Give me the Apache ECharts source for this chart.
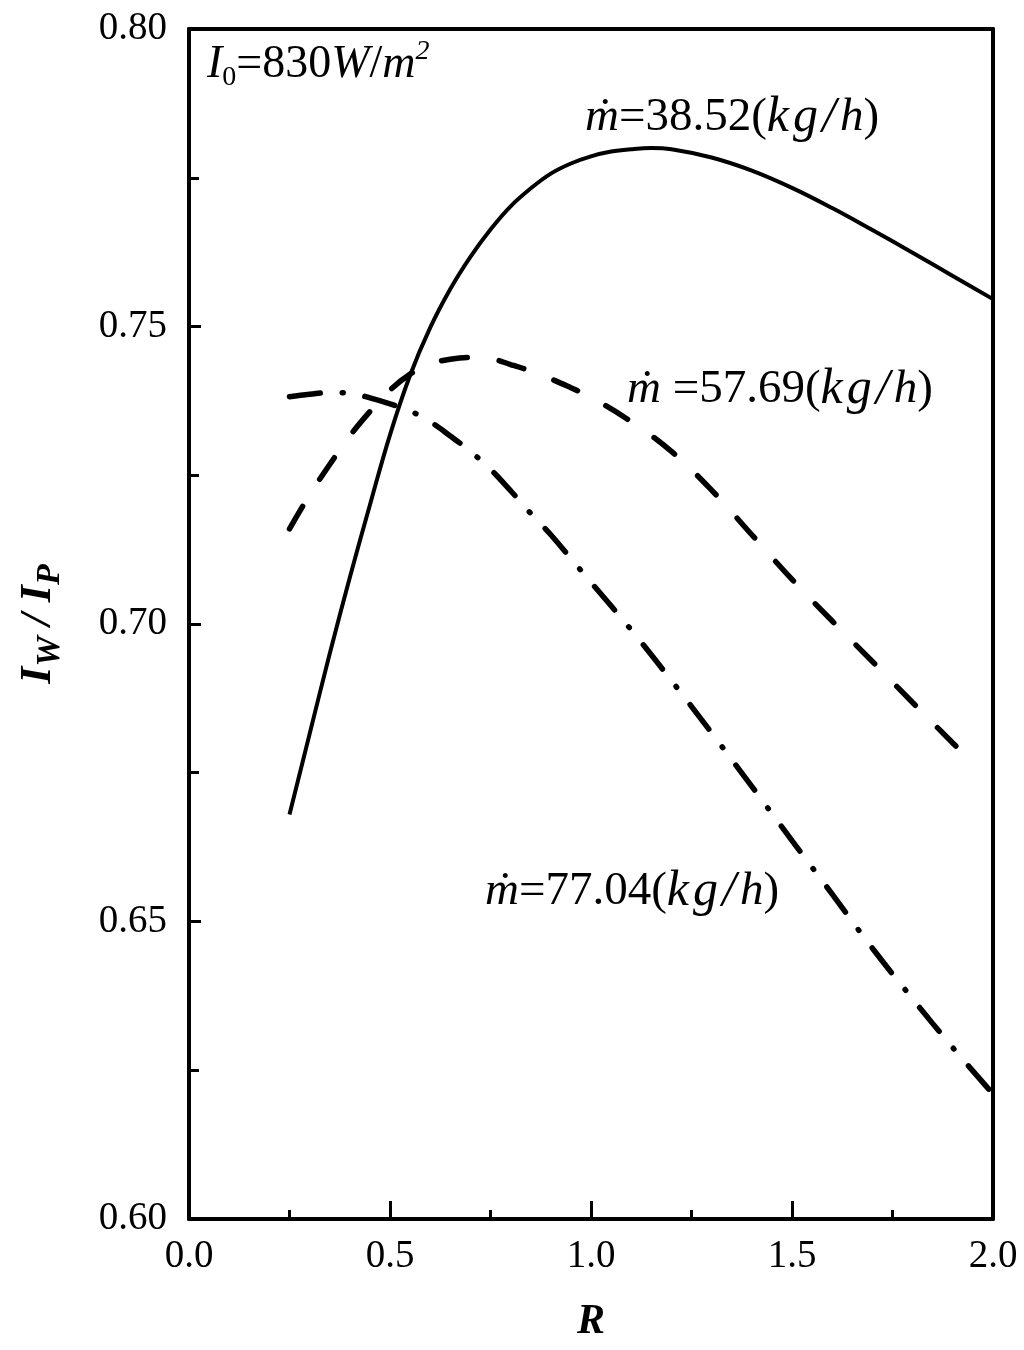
<!DOCTYPE html>
<html style="height: 100%">
<head>
<meta charset="utf-8">
</head>
<body style="width: 100%; height: 100%; margin: 0; background: #fff;">
<div id="container" style="width: 1024px; height: 1350px"></div>
<script type="text/javascript" src="https://cdn.jsdelivr.net/npm/echarts@6/dist/echarts.min.js"></script>
<script type="text/javascript">
	// m = 38.52 kg/h (solid)
	var r1 = [0.25, 0.30, 0.35, 0.40, 0.45, 0.50, 0.55, 0.60, 0.65, 0.70, 0.75, 0.80, 0.85, 0.90, 0.95, 1.00, 1.05, 1.10, 1.15, 1.20, 1.30, 1.40, 1.50, 1.60, 1.70, 1.80, 1.90, 2.00];
	var v1 = [0.6680, 0.6815, 0.6950, 0.7078, 0.7200, 0.7318, 0.7418, 0.7498, 0.7563, 0.7617, 0.7663, 0.7702, 0.7732, 0.7757, 0.7774, 0.7786, 0.7794, 0.7798, 0.7800, 0.7798, 0.7784, 0.7762, 0.7733, 0.7699, 0.7662, 0.7624, 0.7585, 0.7546];
	// m = 57.69 kg/h (dashed)
	var r2 = [0.25, 0.30, 0.35, 0.40, 0.45, 0.50, 0.55, 0.60, 0.65, 0.70, 0.75, 0.80, 0.85, 0.90, 0.95, 1.00, 1.10, 1.20, 1.30, 1.40, 1.50, 1.60, 1.70, 1.80, 1.90, 1.96];
	var v2 = [0.7160, 0.7217, 0.7268, 0.7316, 0.7357, 0.7393, 0.7420, 0.7437, 0.7445, 0.7448, 0.7446, 0.7436, 0.7425, 0.7412, 0.7397, 0.7381, 0.7340, 0.7290, 0.7225, 0.7150, 0.7075, 0.7005, 0.6937, 0.6868, 0.6800, 0.6760];
	// m = 77.04 kg/h (dash-dot)
	var r3 = [0.25, 0.30, 0.35, 0.40, 0.45, 0.50, 0.55, 0.60, 0.65, 0.70, 0.75, 0.80, 0.85, 0.90, 0.95, 1.00, 1.10, 1.20, 1.30, 1.40, 1.50, 1.60, 1.70, 1.80, 1.90, 2.00];
	var v3 = [0.7382, 0.7386, 0.7389, 0.7388, 0.7380, 0.7370, 0.7358, 0.7340, 0.7316, 0.7290, 0.7260, 0.7224, 0.7186, 0.7150, 0.7110, 0.7070, 0.6990, 0.6905, 0.6817, 0.6727, 0.6636, 0.6546, 0.6455, 0.6370, 0.6288, 0.6210];

	var xTicks = [0, 0.5, 1.0, 1.5, 2.0];
	var yTicks = [0.60, 0.65, 0.70, 0.75, 0.80];

	function pairs(xs, ys) {
		var out = [];
		for (var i = 0; i < xs.length; i++) {
			out.push([xs[i], ys[i]]);
		}
		return out;
	}

	var serif = '"Liberation Serif", "Times New Roman", "DejaVu Serif", serif';
	var it = { fontFamily: serif, fontStyle: 'italic', fontSize: 47, fill: '#000' };
	var itSp = { fontFamily: serif, fontStyle: 'italic', fontSize: 50, fill: '#000', padding: [0, 4, 0, 0] };
	var up = { fontFamily: serif, fontSize: 47, fill: '#000' };

	function massLabel(value, gap) {
		return '{it|ṁ' + gap + '}{up|=' + value + '(}{itSp|k}{itSp|g}{itSp|/}{it|h}{up|)}';
	}

	var dom = document.getElementById('container');
	var myChart = echarts.init(dom, null, { renderer: 'canvas' });

	var option = {
		backgroundColor: '#fff',
		animation: false,
		grid: {
			left: 189,
			right: 31,
			top: 29,
			bottom: 131,
			outerBoundsMode: 'none'
		},
		xAxis: [
			{
				type: 'value',
				min: xTicks[0],
				max: xTicks[xTicks.length - 1],
				interval: 0.5,
				name: 'R',
				nameLocation: 'middle',
				nameGap: 82,
				nameTextStyle: {
					fontFamily: serif,
					fontStyle: 'italic',
					fontWeight: 'bold',
					fontSize: 42,
					color: '#000'
				},
				axisLine: { onZero: false, lineStyle: { color: '#000', width: 4 } },
				axisTick: { inside: true, length: 18, lineStyle: { color: '#000', width: 3 } },
				minorTick: { show: true, splitNumber: 2, length: 9, lineStyle: { color: '#000', width: 3 } },
				splitLine: { show: false },
				axisLabel: {
					margin: 18,
					fontFamily: serif,
					fontSize: 39,
					color: '#000',
					formatter: function (v) { return v.toFixed(1); }
				}
			},
			{
				type: 'value',
				position: 'top',
				min: xTicks[0],
				max: xTicks[xTicks.length - 1],
				axisLine: { onZero: false, lineStyle: { color: '#000', width: 4 } },
				axisTick: { show: false },
				axisLabel: { show: false },
				splitLine: { show: false }
			}
		],
		yAxis: [
			{
				type: 'value',
				min: yTicks[0],
				max: yTicks[yTicks.length - 1],
				interval: 0.05,
				name: '{b|I}{bs|W}{b| / I}{bs|P}',
				nameLocation: 'middle',
				nameGap: 122,
				nameTextStyle: {
					color: '#000',
					rich: {
						b: { fontFamily: serif, fontStyle: 'italic', fontWeight: 'bold', fontSize: 44, color: '#000' },
						bs: { fontFamily: serif, fontStyle: 'italic', fontWeight: 'bold', fontSize: 34, color: '#000', padding: [22, 0, 0, 0] }
					}
				},
				axisLine: { onZero: false, lineStyle: { color: '#000', width: 4 } },
				axisTick: { inside: true, length: 12, lineStyle: { color: '#000', width: 3 } },
				minorTick: { show: true, splitNumber: 2, length: 10, lineStyle: { color: '#000', width: 3 } },
				splitLine: { show: false },
				axisLabel: {
					margin: 22,
					fontFamily: serif,
					fontSize: 39,
					color: '#000',
					formatter: function (v) { return v.toFixed(2); }
				}
			},
			{
				type: 'value',
				position: 'right',
				min: yTicks[0],
				max: yTicks[yTicks.length - 1],
				axisLine: { onZero: false, lineStyle: { color: '#000', width: 4 } },
				axisTick: { show: false },
				axisLabel: { show: false },
				splitLine: { show: false }
			}
		],
		graphic: [
			{
				type: 'text',
				x: 207,
				y: 65,
				style: {
					text: '{i|I}{sub|0}{n|=830}{i|W}{n|/}{i|m}{sup|2}',
					verticalAlign: 'middle',
					align: 'left',
					rich: {
						i: { fontFamily: serif, fontStyle: 'italic', fontSize: 46, fill: '#000' },
						n: { fontFamily: serif, fontSize: 46, fill: '#000' },
						sub: { fontFamily: serif, fontSize: 28, fill: '#000', padding: [26, 0, 0, 0] },
						sup: { fontFamily: serif, fontStyle: 'italic', fontSize: 28, fill: '#000', padding: [0, 0, 26, 0] }
					}
				}
			},
			{
				type: 'text',
				x: 585,
				y: 118,
				style: {
					text: massLabel('38.52', ''),
					verticalAlign: 'middle',
					align: 'left',
					rich: { it: it, itSp: itSp, up: up }
				}
			},
			{
				type: 'text',
				x: 627,
				y: 390,
				style: {
					text: massLabel('57.69', ' '),
					verticalAlign: 'middle',
					align: 'left',
					rich: { it: it, itSp: itSp, up: up }
				}
			},
			{
				type: 'text',
				x: 485,
				y: 892,
				style: {
					text: massLabel('77.04', ''),
					verticalAlign: 'middle',
					align: 'left',
					rich: { it: it, itSp: itSp, up: up }
				}
			}
		],
		series: [
			{
				name: '38.52',
				type: 'line',
				data: pairs(r1, v1),
				smooth: 0.4,
				showSymbol: false,
				lineStyle: { color: '#000', width: 4 }
			},
			{
				name: '57.69',
				type: 'line',
				data: pairs(r2, v2),
				smooth: 0.4,
				showSymbol: false,
				lineStyle: { color: '#000', width: 5.5, type: [26, 32], cap: 'round' }
			},
			{
				name: '77.04',
				type: 'line',
				data: pairs(r3, v3),
				smooth: 0.4,
				showSymbol: false,
				lineStyle: { color: '#000', width: 5.5, type: [31, 22, 1, 22], cap: 'round' }
			}
		]
	};

	myChart.setOption(option);
	window.addEventListener('resize', function () {
		myChart.resize();
	});
</script>
</body>
</html>
